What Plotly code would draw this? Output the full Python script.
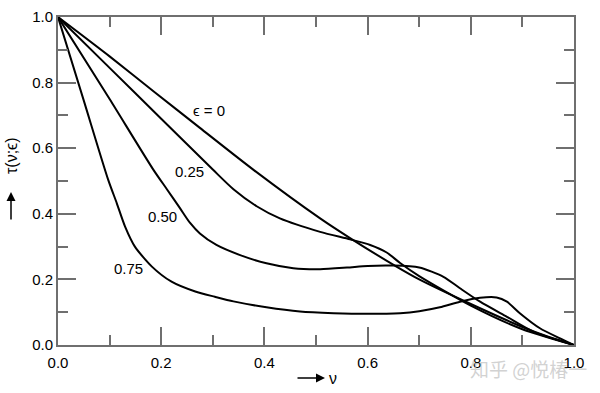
import plotly.graph_objects as go

# Data
nu_e0 = [0, 0.1, 0.188, 0.275, 0.379, 0.508, 0.566, 0.656, 0.7, 0.8, 0.9, 0.95, 1.0]
tau_e0 = [1, 0.88, 0.77, 0.662, 0.534, 0.386, 0.326, 0.239, 0.20, 0.125, 0.055, 0.025, 0]

nu_e25 = [0, 0.1, 0.2, 0.3, 0.34, 0.385, 0.43, 0.508, 0.566, 0.605, 0.637, 0.663, 0.7,
          0.8, 0.9, 1]
tau_e25 = [1, 0.845, 0.69, 0.535, 0.475, 0.423, 0.386, 0.345, 0.322, 0.305, 0.282, 0.25, 0.21,
           0.12, 0.048, 0]

nu_e50 = [0, 0.1, 0.185, 0.211, 0.236, 0.256, 0.275, 0.307, 0.353, 0.404, 0.456, 0.508, 0.56, 0.6,
          0.65, 0.7, 0.747, 0.779, 0.818, 0.87, 0.921, 1]
tau_e50 = [1, 0.75, 0.534, 0.475, 0.418, 0.372, 0.340, 0.305, 0.274, 0.249, 0.234, 0.231, 0.236, 0.241,
           0.242, 0.236, 0.208, 0.173, 0.132, 0.086, 0.041, 0]

nu_e75 = [0, 0.05, 0.097, 0.114, 0.13, 0.149, 0.182, 0.22, 0.266, 0.304, 0.34, 0.404, 0.469, 0.534,
          0.6, 0.663, 0.7, 0.74, 0.779, 0.818, 0.85, 0.87, 0.895, 0.934, 0.973, 1]
tau_e75 = [1, 0.745, 0.505, 0.432, 0.361, 0.30, 0.239, 0.193, 0.163, 0.147, 0.133, 0.115, 0.102, 0.097,
           0.095, 0.097, 0.103, 0.115, 0.132, 0.144, 0.145, 0.132, 0.097, 0.051, 0.020, 0]

labels = ["ϵ = 0", "0.25", "0.50", "0.75"]
label_x = [0.292, 0.254, 0.203, 0.137]
label_y = [0.716, 0.53, 0.393, 0.232]

tick_vals = [0.0, 0.2, 0.4, 0.6, 0.8, 1.0]
tick_text = ["0.0", "0.2", "0.4", "0.6", "0.8", "1.0"]

FONT = "Liberation Sans, Arial, sans-serif"
AXIS_COLOR = "#6f6f6f"

fig = go.Figure()
for xs, ys in [(nu_e0, tau_e0), (nu_e25, tau_e25), (nu_e50, tau_e50), (nu_e75, tau_e75)]:
    fig.add_trace(go.Scatter(x=xs, y=ys, mode="lines",
                             line=dict(color="black", width=2, shape="spline", smoothing=0.7),
                             showlegend=False, hoverinfo="skip"))

for t, x, y in zip(labels, label_x, label_y):
    fig.add_annotation(x=x, y=y, xref="x", yref="y", text=t, showarrow=False,
                       xanchor="center", yanchor="middle",
                       font=dict(family=FONT, size=15, color="black"))

axis_common = dict(
    range=[0, 1], tickvals=tick_vals, ticktext=tick_text, automargin=False,
    ticks="inside", ticklen=18, tickwidth=1.5, tickcolor=AXIS_COLOR,
    showline=True, linecolor=AXIS_COLOR, linewidth=2, mirror="ticks",
    showgrid=False, zeroline=False,
    tickfont=dict(family=FONT, size=15, color="black"),
    minor=dict(dtick=0.1, tick0=0, ticks="inside", ticklen=10, tickwidth=1.5, tickcolor=AXIS_COLOR,
               showgrid=False),
)
fig.update_xaxes(ticklabelstandoff=3, **axis_common)
fig.update_yaxes(**axis_common)

def px(x_pix, y_pix):
    return (x_pix - 58) / 516, (345 - y_pix) / 328

# axis titles with arrows
xx, yy = px(333, 378)
fig.add_annotation(xref="paper", yref="paper", x=xx, y=yy, xanchor="center", yanchor="middle",
                   text="ν", showarrow=False, font=dict(family=FONT, size=16, color="black"))
xx, yy = px(325, 378)
fig.add_annotation(xref="paper", yref="paper", x=xx, y=yy, text="", showarrow=True,
                   ax=-29, ay=0, arrowhead=2, arrowsize=1.2, arrowwidth=1.5, arrowcolor="black")
xx, yy = px(11, 156)
fig.add_annotation(xref="paper", yref="paper", x=xx, y=yy, xanchor="center", yanchor="middle",
                   text="τ(ν;ϵ)", textangle=-90, showarrow=False,
                   font=dict(family=FONT, size=16, color="black"))
xx, yy = px(11, 192)
fig.add_annotation(xref="paper", yref="paper", x=xx, y=yy, text="", showarrow=True,
                   ax=0, ay=29, arrowhead=2, arrowsize=1.2, arrowwidth=1.5, arrowcolor="black")

# watermark
xx, yy = px(528, 368)
fig.add_annotation(xref="paper", yref="paper", x=xx, y=yy, xanchor="center", yanchor="middle",
                   text="知乎 @悦椿一", showarrow=False,
                   font=dict(family="Noto Sans CJK SC", size=19, color="rgba(190,190,190,0.7)"))

fig.update_layout(
    width=600, height=393,
    margin=dict(l=58, r=26, t=17, b=48),
    paper_bgcolor="white", plot_bgcolor="white",
)

fig.write_html("out.html", config={"displayModeBar": False},
               post_script="document.body.style.margin='0';")
